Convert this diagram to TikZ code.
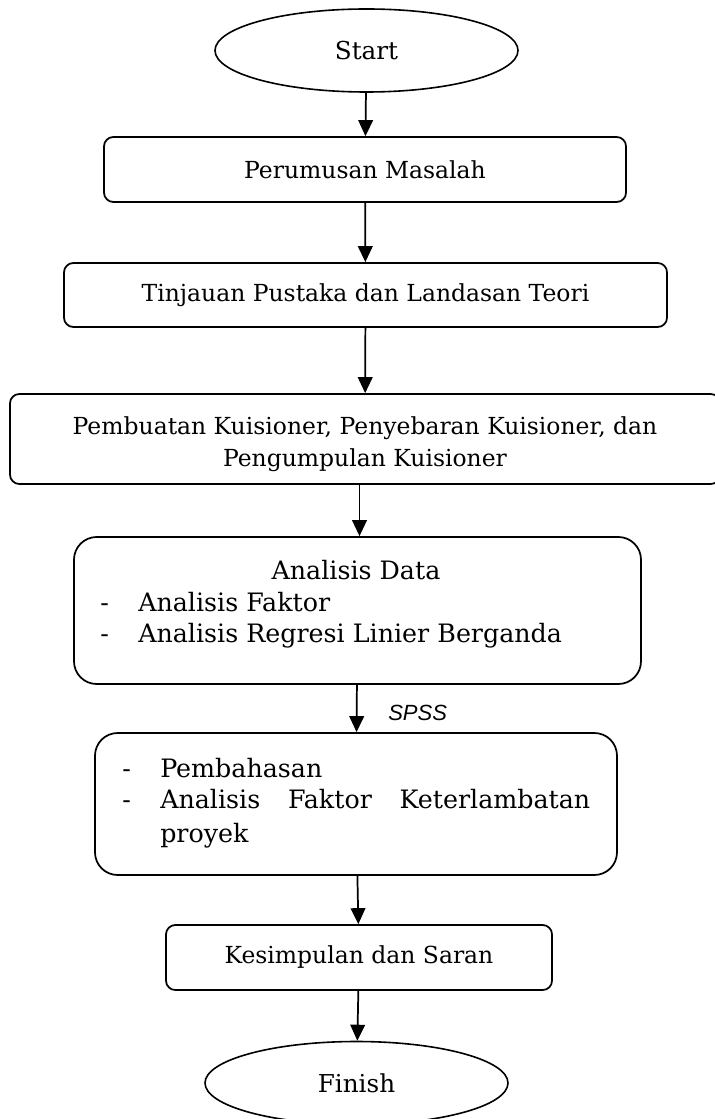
\documentclass[tikz,border=0pt]{standalone}
\usepackage{fontspec}
\setmainfont{DejaVu Serif}
\newfontfamily\spssfont{Liberation Sans}
\usetikzlibrary{shapes.geometric,arrows.meta}

\tikzset{
	box/.style={draw, line width=1.3pt, rounded corners=7pt, inner sep=0pt, align=center},
	bigbox/.style={box, rounded corners=17pt},
	oval/.style={draw, ellipse, line width=1.2pt, inner sep=0pt,
		minimum width=227.25pt, minimum height=62.25pt, font=\fontsize{18.5}{24}\selectfont},
	arrow/.style={line width=1.3pt, -{Triangle[length=12pt,width=11pt]}},
	txt/.style={inner sep=0pt, anchor=base west, font=\fontsize{19}{24}\selectfont},
}

\begin{document}
\begin{tikzpicture}[x=0.75pt,y=-0.75pt, font=\fontsize{17.6}{24}\selectfont]
	\useasboundingbox (0,0) rectangle (714,1119);
	
	% start / finish
	\node[oval] (start) at (366.5,50.5) {Start};
	\node[oval] (finish) at (356.5,1083) {Finish};
	
	% boxes
	\node[box, minimum width=391.5pt, minimum height=48.75pt] (masalah) at (365,169.5) {Perumusan Masalah};
	\node[box, minimum width=452.25pt, minimum height=48pt] (teori) at (365.5,295) {Tinjauan Pustaka dan Landasan Teori};
	\node[box, minimum width=532.5pt, minimum height=67.5pt] (kuisioner) at (365,439)
		{\rule{0pt}{21pt}Pembuatan Kuisioner, Penyebaran Kuisioner, dan\\Pengumpulan Kuisioner};
	\node[bigbox, minimum width=425.25pt, minimum height=110.25pt] (analisis) at (357.5,610.5) {};
	\node[bigbox, minimum width=391.5pt, minimum height=106.5pt] (bahas) at (356,804) {};
	\node[box, minimum width=289.5pt, minimum height=48.75pt] (saran) at (359,957.5) {Kesimpulan dan Saran};
	
	% isi kotak analisis data
	\node[txt, anchor=base] (judul) at (356,579) {Analisis Data};
	\node[txt] (dash1) at (100,611) {-};
	\node[txt] (faktor) at (138,611) {Analisis Faktor};
	\node[txt] (dash2) at (100,642) {-};
	\node[txt] (regresi) at (138,642) {Analisis Regresi Linier Berganda};
	
	% isi kotak pembahasan
	\node[txt] (dash3) at (122,777) {-};
	\node[txt] (pembahasan) at (160,777) {Pembahasan};
	\node[txt] (dash4) at (122,808) {-};
	\node[txt] (telat) at (160,808) {\makebox[322.5pt][s]{Analisis Faktor Keterlambatan}};
	\node[txt] (proyek) at (160,842) {proyek};
	
	% panah
	\draw[arrow] (start) -- (masalah);
	\draw[arrow] (masalah) -- (teori);
	\draw[arrow] (teori) -- (kuisioner);
	\draw[arrow] ([xshift=1.5pt]kuisioner.south -| analisis) -- ([xshift=1.5pt]analisis.north);
	\draw[arrow] (analisis) -- node[inner sep=0pt, right=23pt, yshift=-3.5pt, font=\spssfont\itshape\fontsize{16.5}{18}\selectfont] (spss) {SPSS} (bahas);
	\draw[arrow] (bahas) -- (saran);
	\draw[arrow] (saran) -- (finish);
\end{tikzpicture}
\end{document}
